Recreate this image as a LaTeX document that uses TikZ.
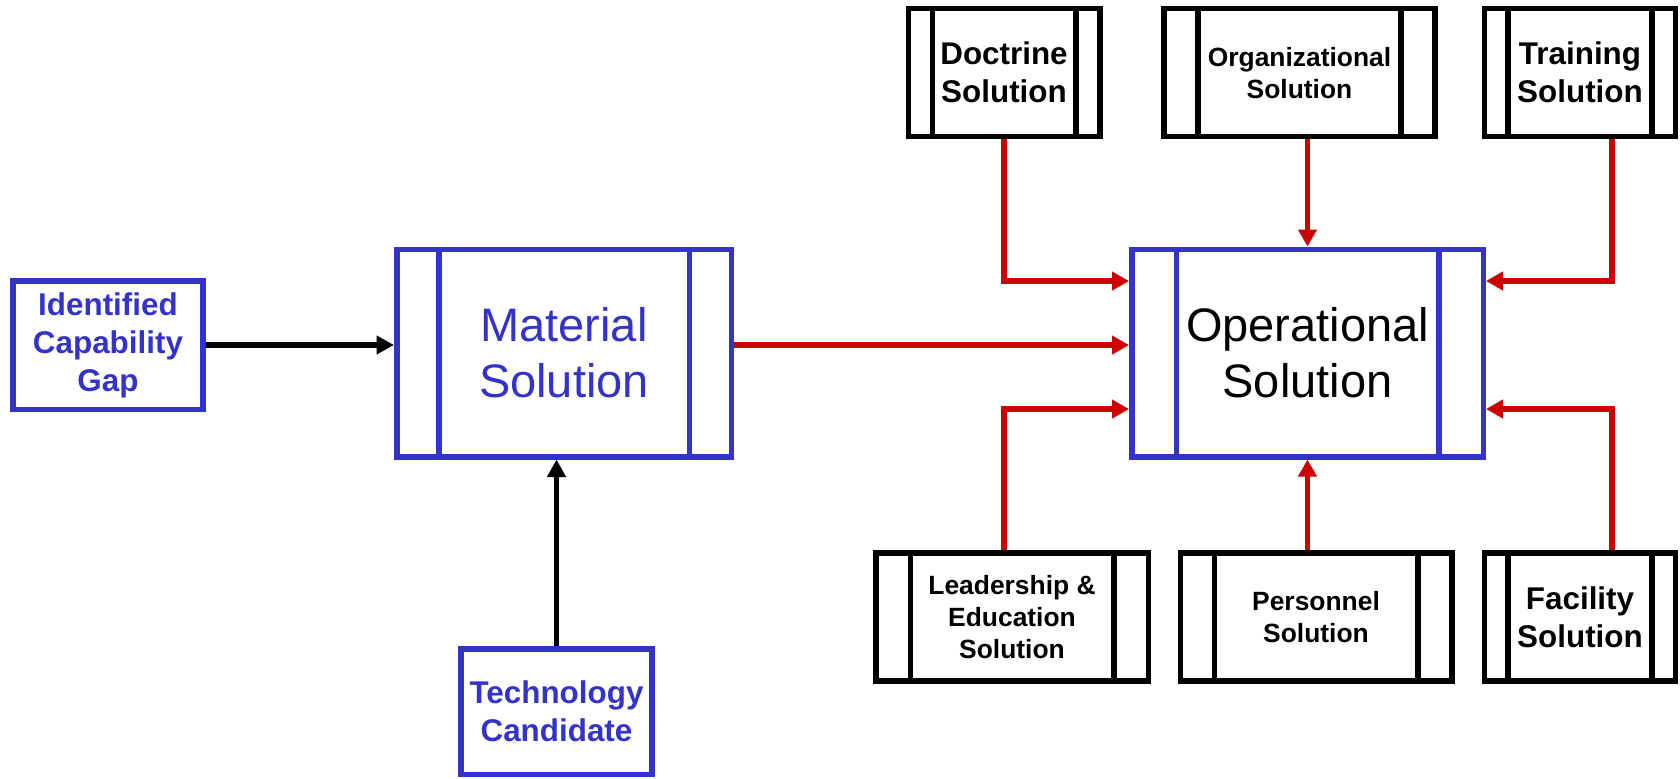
\documentclass[tikz,border=0pt]{standalone}
\usepackage{fontspec}
\setmainfont{Liberation Sans}
\usetikzlibrary{arrows.meta}
\definecolor{boxblue}{RGB}{51,51,204}
\definecolor{linkred}{RGB}{204,0,0}

\begin{document}
\begin{tikzpicture}[x=0.5pt, y=-0.5pt,
    box/.style={draw, line width=2.75pt, inner sep=0pt, align=center},
    bars/.style 2 args={path picture={
      \draw[#2, line width=2.75pt]
        ([xshift=#1]path picture bounding box.north west) -- ([xshift=#1]path picture bounding box.south west)
        ([xshift=-#1]path picture bounding box.north east) -- ([xshift=-#1]path picture bounding box.south east);}},
    bigtext/.style={font=\fontsize{23.5}{28}\selectfont},
    boldtext/.style={font=\fontsize{15.7}{19}\selectfont\bfseries},
    smalltext/.style={font=\fontsize{13.2}{16}\selectfont\bfseries},
    feed/.style={-{Triangle[length=8.75pt,width=9pt]}, line width=2.75pt, black},
    link/.style={-{Triangle[length=8.5pt,width=9pt]}, line width=2.75pt, linkred}]
  \useasboundingbox (0,0) rectangle (1680,778);

  % inputs of the material solution
  \node[box, boldtext, boxblue, minimum width=95pt, minimum height=64.25pt] (gap) at (108,345) {Identified\\Capability\\Gap};
  \node[box, bigtext, boxblue, bars={21pt}{boxblue}, minimum width=167.25pt, minimum height=103.75pt] (mat) at (564,353) {Material\\Solution};
  \node[box, boldtext, boxblue, minimum width=95.5pt, minimum height=62.75pt] (tech) at (556.5,711.75) {Technology\\Candidate};

  % operational solution
  \node[box, bigtext, draw=boxblue, bars={22.25pt}{boxblue}, minimum width=175.75pt, minimum height=103.75pt] (op) at (1307.5,353) {Operational\\Solution};

  % top row
  \node[box, boldtext, bars={12pt}{black}, minimum width=95.75pt, minimum height=63.9pt] (doc) at (1004,72.6) {Doctrine\\Solution};
  \node[box, smalltext, bars={17pt}{black}, minimum width=135.5pt, minimum height=63.9pt] (org) at (1299.5,72.6) {Organizational\\Solution};
  \node[box, boldtext, bars={11.75pt}{black}, minimum width=95.5pt, minimum height=63.9pt] (train) at (1580,72.6) {Training\\Solution};

  % bottom row
  \node[box, smalltext, bars={17.25pt}{black}, minimum width=136.25pt, minimum height=64pt] (lead) at (1012,617) {Leadership \&\\Education\\Solution};
  \node[box, smalltext, bars={17pt}{black}, minimum width=135.75pt, minimum height=64pt] (pers) at (1316,617) {Personnel\\Solution};
  \node[box, boldtext, bars={11.85pt}{black}, minimum width=95.5pt, minimum height=64pt] (fac) at (1580,617) {Facility\\Solution};

  \draw[feed] (gap.east) -- (gap.east -| mat.west);
  \draw[feed] (tech.north) -- (tech.north |- mat.south);
  \draw[link] (gap.east -| mat.east) -- (gap.east -| op.west);

  \draw[link] (doc.south) |- ([yshift=36pt]op.west);
  \draw[link] (org.south -| op.north) -- (op.north);
  \draw[link] ([xshift=16pt]train.south) |- ([yshift=36pt]op.east);
  \draw[link] ([xshift=-4pt]lead.north) |- ([yshift=-28pt]op.west);
  \draw[link] (pers.north -| op.south) -- (op.south);
  \draw[link] ([xshift=16pt]fac.north) |- ([yshift=-28pt]op.east);
\end{tikzpicture}
\end{document}
